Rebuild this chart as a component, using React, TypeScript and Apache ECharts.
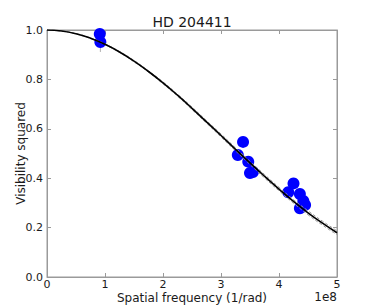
import React, { useEffect, useRef } from "react";
import * as echarts from "echarts";

// Spatial frequency in units of 1e8 (1/rad)
const modelX = [0, 0.25, 0.5, 0.75, 1, 1.25, 1.5, 1.75, 2, 2.25, 2.5, 2.75, 3, 3.25, 3.5, 3.75, 4, 4.25, 4.5, 4.75, 5];
const modelV2 = [1.0, 0.996, 0.985, 0.967, 0.942, 0.911, 0.874, 0.832, 0.786, 0.736, 0.683, 0.628, 0.573, 0.517, 0.462, 0.408, 0.356, 0.306, 0.26, 0.218, 0.179];
const modelUpper = [1.0, 0.996, 0.986, 0.968, 0.944, 0.913, 0.877, 0.835, 0.79, 0.74, 0.688, 0.633, 0.579, 0.523, 0.468, 0.415, 0.363, 0.313, 0.268, 0.226, 0.187];
const modelLower = [1.0, 0.996, 0.984, 0.966, 0.94, 0.909, 0.871, 0.829, 0.782, 0.732, 0.678, 0.623, 0.567, 0.511, 0.456, 0.401, 0.349, 0.299, 0.252, 0.21, 0.171];

const obsX = [0.91, 0.92, 3.29, 3.38, 3.47, 3.5, 3.55, 4.16, 4.25, 4.36, 4.42, 4.45, 4.36];
const obsV2 = [0.984, 0.951, 0.494, 0.547, 0.467, 0.421, 0.425, 0.343, 0.379, 0.336, 0.308, 0.292, 0.278];
const obsErr = [0.02, 0.04, 0.02, 0.02, 0.02, 0.02, 0.02, 0.02, 0.02, 0.02, 0.02, 0.02, 0.02];

const xTicks = [0, 1, 2, 3, 4, 5];
const yTicks = [0, 0.2, 0.4, 0.6, 0.8, 1.0];

const FONT = "DejaVu Sans";
const SPINE = "#9a9a9a";
const TEXT = "#1a1a1a";

export default function App() {
  const ref = useRef<HTMLDivElement>(null);
  useEffect(() => {
    if (!ref.current) return;
    const chart = echarts.init(ref.current, null, { renderer: "svg" });
    const pairs = (xs: number[], ys: number[]) => xs.map((x, i) => [x, ys[i]]);
    const xCommon = {
      type: "value" as const,
      min: xTicks[0],
      max: xTicks[xTicks.length - 1],
      interval: 1,
      splitLine: { show: false },
      axisLine: { show: true, onZero: false, lineStyle: { color: SPINE, width: 1 } },
      axisTick: { show: true, inside: true, length: 4, lineStyle: { color: SPINE } },
    };
    const yCommon = {
      type: "value" as const,
      min: yTicks[0],
      max: yTicks[yTicks.length - 1],
      interval: 0.2,
      splitLine: { show: false },
      axisLine: { show: true, onZero: false, lineStyle: { color: SPINE, width: 1 } },
      axisTick: { show: true, inside: true, length: 4, lineStyle: { color: SPINE } },
    };
    chart.setOption({
      animation: false,
      backgroundColor: "#ffffff",
      title: {
        text: "HD 204411",
        left: 192,
        textAlign: "center",
        top: 15,
        padding: 0,
        textStyle: { fontFamily: FONT, fontSize: 14, fontWeight: "normal", color: TEXT },
      },
      grid: {
        left: 47,
        right: 37,
        top: 30,
        bottom: 31,
        containLabel: false,
        outerBoundsMode: "none",
        show: true,
        borderColor: SPINE,
        borderWidth: 1,
        backgroundColor: "transparent",
      },
      xAxis: [
        {
          ...xCommon,
          position: "bottom",
          name: "Spatial frequency (1/rad)",
          nameLocation: "middle",
          nameGap: 15,
          nameMoveOverlap: false,
          nameTextStyle: { fontFamily: FONT, fontSize: 12, lineHeight: 12, color: TEXT },
          axisLabel: { margin: 2, fontFamily: FONT, fontSize: 11, lineHeight: 11, color: TEXT, formatter: (v: number) => String(v) },
        },
        { ...xCommon, position: "top", axisLabel: { show: false } },
      ],
      yAxis: [
        {
          ...yCommon,
          position: "left",
          name: "Visibility squared",
          nameLocation: "middle",
          nameGap: 20,
          nameMoveOverlap: false,
          nameTextStyle: { fontFamily: FONT, fontSize: 12, color: TEXT },
          axisLabel: { margin: 4, fontFamily: FONT, fontSize: 11, color: TEXT, formatter: (v: number) => v.toFixed(1) },
        },
        { ...yCommon, position: "right", axisLabel: { show: false } },
      ],
      graphic: [
        {
          type: "text",
          x: 337,
          y: 297,
          style: {
            text: "1e8",
            font: `12px "${FONT}"`,
            lineHeight: 11,
            fill: TEXT,
            textAlign: "right",
            textVerticalAlign: "middle",
          },
        },
      ],
      series: [
        {
          type: "custom",
          z: 1,
          data: obsX.map((x, i) => [x, obsV2[i] - obsErr[i], obsV2[i] + obsErr[i]]),
          encode: { x: 0, y: [1, 2] },
          renderItem: (_params: any, api: any) => {
            const p1 = api.coord([api.value(0), api.value(1)]);
            const p2 = api.coord([api.value(0), api.value(2)]);
            return {
              type: "line",
              shape: { x1: p1[0], y1: p1[1], x2: p2[0], y2: p2[1] },
              style: { stroke: "#b0b0b0", lineWidth: 1 },
            };
          },
        },
        {
          type: "scatter",
          z: 2,
          symbol: "circle",
          symbolSize: 12,
          itemStyle: { color: "#0000ff", opacity: 1 },
          data: pairs(obsX, obsV2),
        },
        {
          type: "line",
          z: 3,
          smooth: true,
          showSymbol: false,
          lineStyle: { color: "#999999", width: 1, type: [3, 2] },
          data: pairs(modelX, modelUpper),
        },
        {
          type: "line",
          z: 3,
          smooth: true,
          showSymbol: false,
          lineStyle: { color: "#999999", width: 1, type: [3, 2] },
          data: pairs(modelX, modelLower),
        },
        {
          type: "line",
          z: 4,
          smooth: true,
          showSymbol: false,
          lineStyle: { color: "#000000", width: 1.6 },
          data: pairs(modelX, modelV2),
        },
      ],
    });
    return () => chart.dispose();
  }, []);
  return (
    <div
      ref={ref}
      style={{ position: "fixed", left: 0, top: 0, width: 374, height: 308 }}
    />
  );
}
